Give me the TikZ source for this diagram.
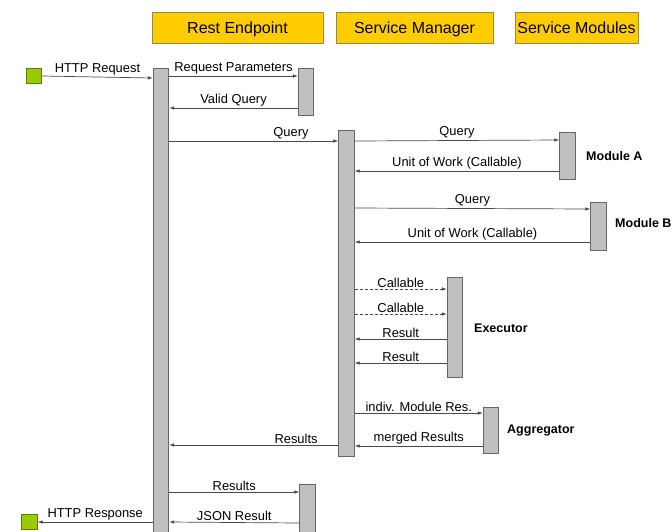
\documentclass[tikz,border=0pt]{standalone}
\usepackage{fontspec}
\setmainfont{Liberation Sans}
\usetikzlibrary{arrows.meta,positioning}

\definecolor{HeadFill}{HTML}{FFCC00}
\definecolor{HeadLine}{HTML}{9A8A3C}
\definecolor{BarFill}{HTML}{C0C0C0}
\definecolor{BarLine}{HTML}{666666}
\definecolor{ActFill}{HTML}{99CC00}
\definecolor{ActLine}{HTML}{5E7D10}
\definecolor{MsgLine}{HTML}{4A4A4A}

\begin{document}
\begin{tikzpicture}[x=1pt,y=-1pt]
			\tikzstyle{Header}	= [rectangle, draw=HeadLine, fill=HeadFill, line width=0.8pt, minimum height=31pt, inner sep=0pt, text height=12pt, text depth=0pt, font=\fontsize{16}{19}\selectfont]
			\tikzstyle{Bar}		= [rectangle, draw=BarLine, fill=BarFill, line width=0.8pt, minimum width=15.5pt, inner sep=0pt]
			\tikzstyle{Actor}	= [rectangle, draw=ActLine, fill=ActFill, line width=0.6pt, minimum size=15.5pt, inner sep=0pt]
			\tikzstyle{Msg}		= [draw=MsgLine, line width=0.7pt, -{Latex[length=5pt,width=3.5pt]}]
			\tikzstyle{Async}	= [Msg, dash pattern=on 3pt off 2pt]
			\tikzstyle{Lbl}		= [above, inner sep=1.5pt, font=\fontsize{12.9}{15}\selectfont]
			\tikzstyle{Role}	= [anchor=west, inner sep=0pt, font=\bfseries\fontsize{12.5}{15}\selectfont]

			\useasboundingbox (0,0) rectangle (672,531);

			\node (hRest) at (237.5,27.5) [Header, minimum width=171pt] {Rest Endpoint};
			\node (hMgr) at (414.5,27.5) [Header, minimum width=157pt] {Service Manager};
			\node (hMod) at (576.5,27.5) [Header, minimum width=123pt] {Service Modules};

			\node (req) at (34,76) [Actor] {};
			\node (resp) at (29.5,522) [Actor] {};

			\node (rest) at (161,304) [Bar, minimum height=472pt] {};
			\node (params) at (306,91.5) [Bar, minimum height=47pt] {};
			\node (mgr) at (346.5,293) [Bar, minimum height=326pt] {};
			\node (modA) at (567.5,155.5) [Bar, minimum height=47pt] {};
			\node (modB) at (598.5,226) [Bar, minimum height=48pt] {};
			\node (exec) at (455,327) [Bar, minimum height=100pt] {};
			\node (aggr) at (491,430) [Bar, minimum height=46pt] {};
			\node (resbar) at (307.5,512) [Bar, minimum height=56pt] {};

			\node (lModA) at (586,156) [Role] {Module A};
			\node (lModB) at (615,223) [Role] {Module B};
			\node (lExec) at (474,328) [Role] {Executor};
			\node (lAggr) at (507,431) [Role] {Aggregator};

			\draw [Msg] (req.east) to node [Lbl] {HTTP Request} (rest.west |- 0,78);
			\draw [Msg] (rest.east |- 0,76) to node [Lbl] {Request Parameters} (params.west |- 0,76);
			\draw [Msg] (params.west |- 0,108) to node [Lbl] {Valid Query} (rest.east |- 0,108);
			\draw [Msg] (rest.east |- 0,141) to node [Lbl, pos=0.72] {Query} (mgr.west |- 0,141);

			\draw [Msg] (mgr.east |- 0,141) to node [Lbl] {Query} (modA.west |- 0,140);
			\draw [Msg] (modA.west |- 0,171) to node [Lbl] {Unit of Work (Callable)} (mgr.east |- 0,171);
			\draw [Msg] (mgr.east |- 0,208) to node [Lbl] {Query} (modB.west |- 0,209);
			\draw [Msg] (modB.west |- 0,242) to node [Lbl] {Unit of Work (Callable)} (mgr.east |- 0,242);

			\draw [Async] (mgr.east |- 0,289) to node [Lbl] {Callable} (exec.west |- 0,289);
			\draw [Async] (mgr.east |- 0,314) to node [Lbl] {Callable} (exec.west |- 0,314);
			\draw [Msg] (exec.west |- 0,339) to node [Lbl] {Result} (mgr.east |- 0,339);
			\draw [Msg] (exec.west |- 0,363) to node [Lbl] {Result} (mgr.east |- 0,363);

			\draw [Msg] (mgr.east |- 0,413) to node [Lbl] {indiv. Module Res.} (aggr.west |- 0,413);
			\draw [Msg] (aggr.west |- 0,446) to node [Lbl] {merged Results} (mgr.east |- 0,446);
			\draw [Msg] (mgr.west |- 0,445) to node [Lbl, pos=0.25] {Results} (rest.east |- 0,445);

			\draw [Msg] (rest.east |- 0,492) to node [Lbl] {Results} (resbar.west |- 0,492);
			\draw [Msg] (resbar.west |- 0,523) to node [Lbl] {JSON Result} (rest.east |- 0,522);
			\draw [Msg] (rest.west |- 0,522) to node [Lbl] {HTTP Response} (resp.east);

		\end{tikzpicture}
\end{document}
